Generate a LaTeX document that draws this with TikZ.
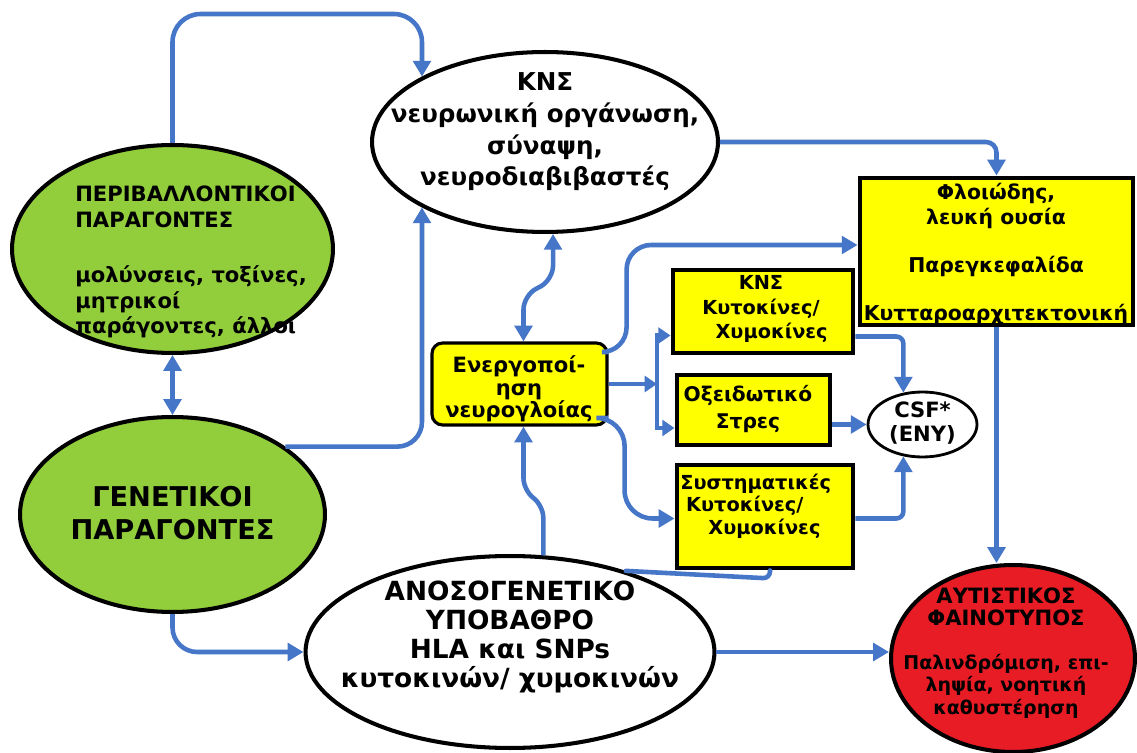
\documentclass[tikz,border=0pt]{standalone}
\usepackage{fontspec}
\setmainfont{DejaVu Sans}
\usetikzlibrary{shapes.geometric,arrows.meta,calc}
\definecolor{arrblue}{RGB}{70,118,200}
\definecolor{lgreen}{RGB}{146,205,60}
\definecolor{ared}{RGB}{232,28,36}
\definecolor{byellow}{RGB}{255,255,0}
\begin{document}
\begin{tikzpicture}[x=0.02cm,y=-0.02cm,
  ell/.style={ellipse, draw=black, line width=2.3pt, inner sep=0pt},
  ybox/.style={rectangle, draw=black, fill=byellow, line width=2.8pt, inner sep=0pt},
  txt/.style={inner sep=0pt, align=center, text=black},
  arr/.style={draw=arrblue, line width=2.6pt, rounded corners=14pt, -{Triangle[length=9pt,width=10pt]}},
  arrs/.style={draw=arrblue, line width=2.6pt, -{Triangle[length=7pt,width=9pt]}},
  arrtwo/.style={draw=arrblue, line width=2.6pt, rounded corners=8pt, {Triangle[length=9pt,width=10pt]}-{Triangle[length=9pt,width=10pt]}},
  bline/.style={draw=arrblue, line width=2.6pt, line cap=round}
]
\fill[white] (0,0) rectangle (1137,753);
\path[use as bounding box] (0,0) rectangle (1137,753);

% shapes
\node[ell, fill=lgreen, minimum width=6.42cm, minimum height=4.16cm] (env) at (172.5,249) {};
\node[ell, fill=lgreen, minimum width=6.1cm, minimum height=3.9cm] (gen) at (172.5,514.5) {};
\node[ell, fill=white, minimum width=6.92cm, minimum height=3.6cm] (cns) at (545,142) {};
\node[ell, fill=white, minimum width=8.18cm, minimum height=3.84cm] (anoso) at (510,652) {};
\node[ell, fill=ared, minimum width=4.88cm, minimum height=3.74cm] (red) at (1013,658.5) {};
\node[ell, fill=white, line width=1.6pt, minimum width=2.18cm, minimum height=1.3cm] (csf) at (922.5,424.5) {};

\node[ybox, minimum width=5.46cm, minimum height=2.94cm] (big) at (996.5,251.5) {};
\node[ybox, minimum width=3.6cm, minimum height=1.66cm] (kns) at (763,311.5) {};
\node[ybox, minimum width=3.06cm, minimum height=1.4cm] (oxs) at (753.5,410) {};
\node[ybox, minimum width=3.52cm, minimum height=2.06cm] (syst) at (765,516.5) {};
\node[ybox, rounded corners=6pt, line width=1.8pt, minimum width=3.5cm, minimum height=1.64cm] (enr) at (519.5,384) {};

% texts
\node[txt, align=left, anchor=west, font=\bfseries\fontsize{12}{14.6}\selectfont] (envT) at (75,262)
  {ΠΕΡΙΒΑΛΛΟΝΤΙΚΟΙ\\ΠΑΡΑΓΟΝΤΕΣ\\[17pt]μολύνσεις, τοξίνες,\\μητρικοί\\παράγοντες, άλλοι};
\node[txt, font=\bfseries\fontsize{15.5}{18.7}\selectfont] (genT) at (172.5,513)
  {ΓΕΝΕΤΙΚΟΙ\\ΠΑΡΑΓΟΝΤΕΣ};
\node[txt, font=\bfseries\fontsize{14}{18}\selectfont] (cnsT) at (545,132)
  {ΚΝΣ\\νευρωνική οργάνωση,\\σύναψη,\\νευροδιαβιβαστές};
\node[txt, font=\bfseries\fontsize{15}{16.4}\selectfont] (anosoT) at (510,637)
  {ΑΝΟΣΟΓΕΝΕΤΙΚΟ\\ΥΠΟΒΑΘΡΟ\\HLA και SNPs\\κυτοκινών/ χυμοκινών};
\node[txt, font=\bfseries\fontsize{12}{12.8}\selectfont] (redT) at (1006,653)
  {ΑΥΤΙΣΤΙΚΟΣ\\ΦΑΙΝΟΤΥΠΟΣ\\[12pt]{\fontsize{10.8}{12.8}\selectfont Παλινδρόμιση, επι-}\\{\fontsize{10.8}{12.8}\selectfont ληψία, νοητική}\\{\fontsize{10.8}{12.8}\selectfont καθυστέρηση}};
\node[txt, font=\bfseries\fontsize{11.6}{14.2}\selectfont] (bigT) at (996,254)
  {Φλοιώδης,\\λευκή ουσία\\[13pt]Παρεγκεφαλίδα\\[13pt]Κυτταροαρχιτεκτονική};
\node[txt, font=\bfseries\fontsize{11}{13.9}\selectfont] (knsT) at (761,309)
  {ΚΝΣ\\Κυτοκίνες/\hspace*{1.1em}\\\hspace*{1.1em}Χυμοκίνες};
\node[txt, font=\bfseries\fontsize{11.5}{15.3}\selectfont] (oxsT) at (748,409)
  {Οξειδωτικό\\Στρες};
\node[txt, align=left, anchor=west, font=\bfseries\fontsize{11}{12.8}\selectfont] (systT) at (680,506)
  {Συστηματικές\\\hspace*{0.3em}Κυτοκίνες/\\\hspace*{1.45em}Χυμοκίνες};
\node[txt, font=\bfseries\fontsize{12}{12.8}\selectfont] (enrT) at (519,389)
  {Ενεργοποί-\\ηση\\νευρογλοίας};
\node[txt, font=\bfseries\fontsize{12}{14}\selectfont] (csfT) at (922.5,423)
  {CSF*\\(ΕΝΥ)};

% connectors
\coordinate (ytop) at (0,14);
\draw[arr, rounded corners=16pt] (env.north) -- (env.north |- ytop) -- (cns.152 |- ytop) -- (cns.152);
\draw[arr] (gen.31) -- (gen.31 -| cns.208) -- (cns.208);
\draw[arr] (gen.south) |- (anoso.west);
\draw[arrtwo, rounded corners=0pt] (env.south) -- (env.south |- gen.north);
\draw[arr] (anoso.east) -- (anoso.east -| red.west);
\draw[arr, rounded corners=7pt] (anoso.71) -- ++(0,-50) -- ($(enr.south)+(4,64)$) -- ($(enr.south)+(4,0)$);
\draw[arrtwo] ($(enr.north)+(4,0)$) -- ++(0,-46) -- ($(cns.-85)+(0,46)$) -- (cns.-85);
\draw[arr] ($(enr.east)+(0,-32)$) -- ++(18,0) |- ($(big.west)+(0,-6.5)$);
\coordinate (jn) at (657,384);
\draw[arrs] (enr.east) -- (jn);
\draw[arrs] (jn) |- ($(kns.west)+(0,24)$);
\draw[arrs] (jn) |- ($(oxs.west)+(0,18)$);
\draw[arr, rounded corners=16pt] ($(enr.east)+(0,34)$) -- ++(16,0) |- ($(syst.west)+(0,2)$);
\draw[arr, rounded corners=4pt] ($(kns.east)+(0,25)$) -| (csf.121);
\draw[arr] (oxs.east |- csf.west) -- (csf.west);
\draw[arr, rounded corners=4pt] ($(syst.east)+(0,2)$) -| (csf.-121);
\draw[arr, rounded corners=6pt] (cns.east) -| (big.north);
\draw[arr] (big.south) -- (big.south |- red.north);
\coordinate (sysb) at ($(syst.south)+(5,0)$);
\draw[bline, rounded corners=4pt] (anoso.35) -- ($(sysb)+(0,8)$) -- (sysb);
\end{tikzpicture}
\end{document}
